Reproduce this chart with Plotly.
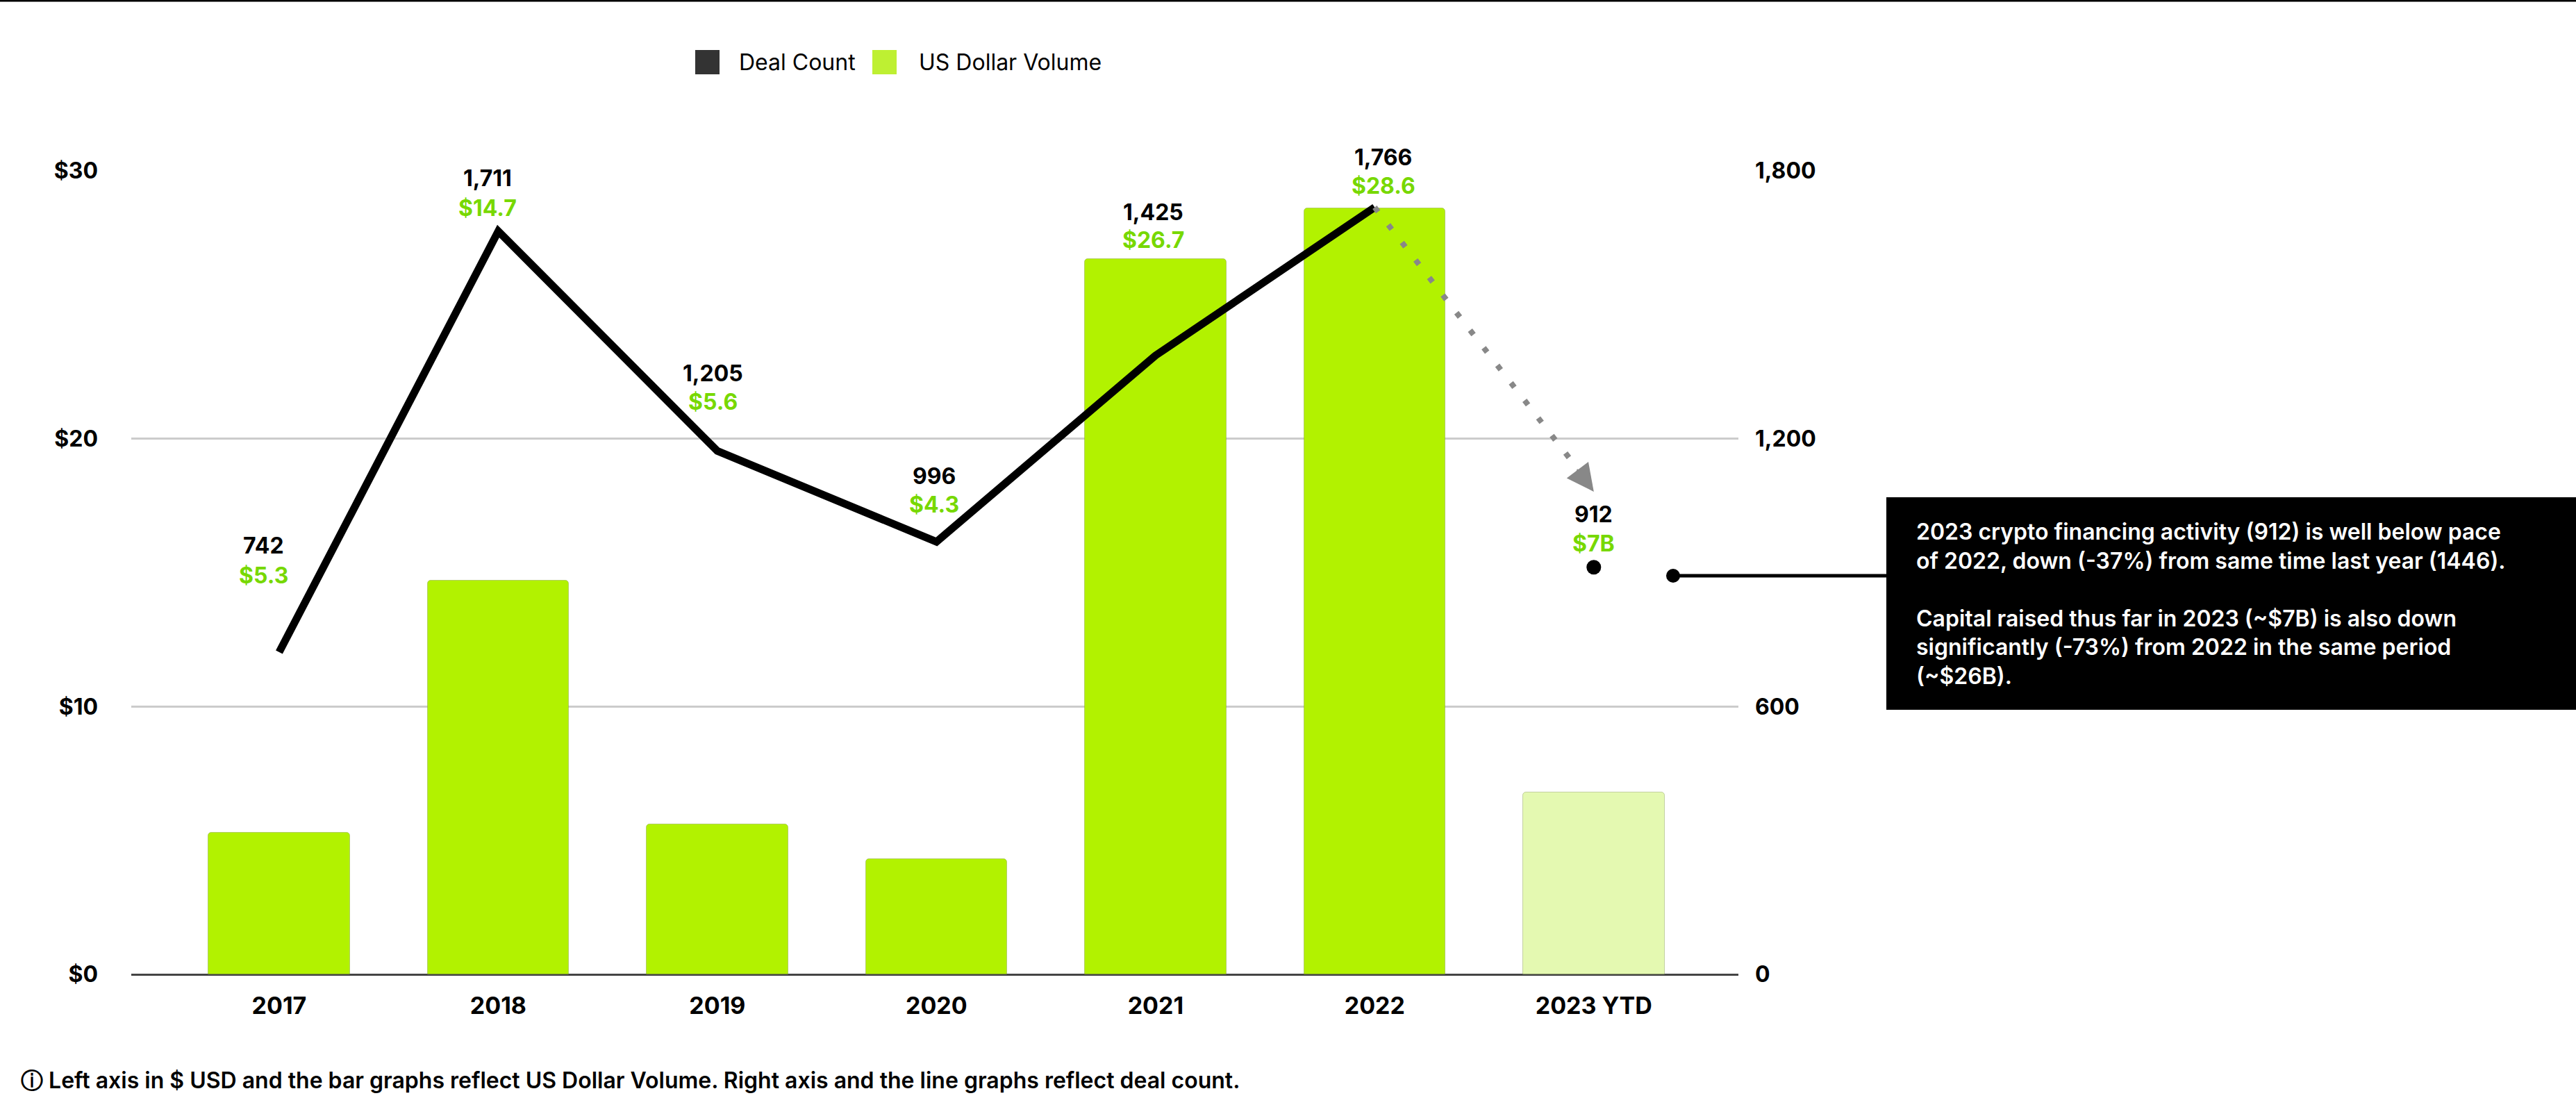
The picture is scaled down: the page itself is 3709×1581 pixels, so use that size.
import plotly.graph_objects as go

# ---------------- data ----------------
years = ["2017", "2018", "2019", "2020", "2021", "2022", "2023 YTD"]
usd_volume = [5.3, 14.7, 5.6, 4.3, 26.7, 28.6, 6.8]          # $B, bars (left axis)
usd_labels = ["$5.3", "$14.7", "$5.6", "$4.3", "$26.7", "$28.6", "$7B"]
deal_count = [742, 1711, 1205, 996, 1425, 1766, 912]         # line (right axis)
count_labels = ["742", "1,711", "1,205", "996", "1,425", "1,766", "912"]
left_tickvals = [0, 10, 20, 30]
left_ticktext = ["$0", "$10", "$20", "$30"]
right_tickvals = [0, 600, 1200, 1800]
right_ticktext = ["0", "600", "1,200", "1,800"]

legend_names = ["Deal Count", "US Dollar Volume"]
note_text = ("2023 crypto financing activity (912) is well below pace<br>"
             "of 2022, down (-37%) from same time last year (1446).<br> <br>"
             "Capital raised thus far in 2023 (~$7B) is also down<br>"
             "significantly (-73%) from 2022 in the same period<br>"
             "(~$26B).")
footer_text = ("ⓘ Left axis in $ USD and the bar graphs reflect US Dollar Volume. "
               "Right axis and the line graphs reflect deal count.")

# ---------------- layout constants ----------------
W, H = 3709, 1581
L, R, T, B = 189, 2503, 246, 1403          # plot area in pixels
FONT = "Inter"
LIME = "#B2F200"
LIME_LIGHT = "#E4F9B1"
GREEN_TXT = "#77D800"
RIGHT_MAX = 1800
Y3MAX = 1850

# label positions (right-axis units) and small horizontal nudges
count_label_y = [961, 1784, 1346, 1117, 1708, 1831, 1031]
dollar_label_y = [894, 1717, 1282, 1053, 1645, 1767, 965]
label_dx = [-0.07, -0.05, -0.02, -0.01, -0.01, 0.04, 0.0]


def px(x):
    return (x - L) / (R - L)


def py(y):
    return (B - y) / (B - T)


bar_colors = [LIME] * 6 + [LIME_LIGHT]

fig = go.Figure()

fig.add_trace(go.Bar(
    x=years, y=usd_volume, width=0.645,
    marker=dict(color=bar_colors, cornerradius=5,
                line=dict(color="rgba(110,130,60,0.35)", width=1)),
    yaxis="y", showlegend=False, hoverinfo="skip",
))

fig.add_trace(go.Scatter(
    x=years[:6], y=deal_count[:6], mode="lines",
    line=dict(color="#000000", width=11),
    yaxis="y3", showlegend=False, hoverinfo="skip",
))

fig.add_trace(go.Scatter(
    x=years[6:], y=deal_count[6:], mode="markers",
    marker=dict(color="#000000", size=21),
    yaxis="y2", showlegend=False, hoverinfo="skip",
))

annotations = []
for i, yr in enumerate(years):
    annotations.append(dict(
        x=i + label_dx[i], y=count_label_y[i] / RIGHT_MAX, xref="x", yref="paper",
        text=count_labels[i], showarrow=False, xanchor="center", yanchor="middle",
        font=dict(family=FONT, size=32, color="#000000", weight=700)))
    annotations.append(dict(
        x=i + label_dx[i], y=dollar_label_y[i] / RIGHT_MAX, xref="x", yref="paper",
        text=usd_labels[i], showarrow=False, xanchor="center", yanchor="middle",
        font=dict(family=FONT, size=32, color=GREEN_TXT, weight=700)))

# arrow head of the dotted projection arrow
tip_y3 = (B - 708) / (B - T) * Y3MAX
annotations.append(dict(
    x=6, y=tip_y3, xref="x", yref="y3", text=" ", showarrow=True,
    arrowhead=2, arrowsize=3, arrowwidth=2.6, arrowcolor="#888888",
    ax=-27, ay=-36, standoff=0))

# note box text
annotations.append(dict(
    x=px(2757), y=py(869), xref="paper", yref="paper", text=note_text,
    showarrow=False, xanchor="left", yanchor="middle", align="left",
    font=dict(family=FONT, size=32, color="#FFFFFF", weight=600)))

# legend labels
annotations.append(dict(
    x=px(1062), y=py(90), xref="paper", yref="paper", text=legend_names[0],
    showarrow=False, xanchor="left", yanchor="middle",
    font=dict(family=FONT, size=32, color="#000000")))
annotations.append(dict(
    x=px(1321), y=py(90), xref="paper", yref="paper", text=legend_names[1],
    showarrow=False, xanchor="left", yanchor="middle",
    font=dict(family=FONT, size=32, color="#000000")))

# footer
annotations.append(dict(
    x=px(28), y=py(1555), xref="paper", yref="paper", text=footer_text,
    showarrow=False, xanchor="left", yanchor="middle",
    font=dict(family=FONT, size=32, color="#000000", weight=600)))

shapes = [
    # top black rule
    dict(type="rect", xref="paper", yref="paper", x0=px(0), x1=px(W), y0=py(2.5), y1=py(0),
         fillcolor="#000000", line=dict(width=0), layer="above"),
    # legend squares
    dict(type="rect", xref="paper", yref="paper", x0=px(1001), x1=px(1036), y0=py(107), y1=py(72),
         fillcolor="#333333", line=dict(width=0)),
    dict(type="rect", xref="paper", yref="paper", x0=px(1256), x1=px(1291), y0=py(107), y1=py(72),
         fillcolor="#BEF032", line=dict(width=0)),
    # dotted projection line (from 2022 line end toward 2023)
    dict(type="line", xref="x", yref="y3", x0=5, y0=deal_count[5],
         x1=(2272 - 402) / 315.4, y1=(B - 676) / (B - T) * Y3MAX,
         line=dict(color="#888888", width=8, dash="8px,24px")),
    # connector to note box
    dict(type="line", xref="paper", yref="paper", x0=px(2409), x1=px(2718), y0=py(829), y1=py(829),
         line=dict(color="#000000", width=5)),
    dict(type="circle", xref="paper", yref="paper", x0=px(2399), x1=px(2419), y0=py(839), y1=py(819),
         fillcolor="#000000", line=dict(width=0)),
    # note box
    dict(type="rect", xref="paper", yref="paper", x0=px(2716), x1=px(W + 10), y0=py(1022), y1=py(716),
         fillcolor="#000000", line=dict(width=0), layer="below"),
]

fig.update_layout(
    width=W, height=H,
    margin=dict(l=L, r=W - R, t=T, b=H - B, pad=0),
    paper_bgcolor="#FFFFFF", plot_bgcolor="#FFFFFF",
    showlegend=False,
    bargap=0,
    font=dict(family=FONT, color="#000000"),
    xaxis=dict(type="category", range=[-0.675, 6.66], showgrid=False, zeroline=False,
               showline=False, ticks="", ticklabelstandoff=22,
               tickfont=dict(family=FONT, size=34, color="#000000", weight=700)),
    yaxis=dict(range=[0, 30], tickvals=left_tickvals, ticktext=left_ticktext,
               showgrid=True, gridcolor="#CCCCCC", gridwidth=3,
               zeroline=True, zerolinecolor="#444444", zerolinewidth=3,
               showline=False, ticks="", ticklabelstandoff=47,
               tickfont=dict(family=FONT, size=32, color="#000000", weight=700)),
    yaxis2=dict(range=[0, RIGHT_MAX], overlaying="y", side="right", tickvals=right_tickvals,
                ticktext=right_ticktext, showgrid=False, zeroline=False, showline=False,
                ticks="", ticklabelstandoff=23,
                tickfont=dict(family=FONT, size=32, color="#000000", weight=700)),
    yaxis3=dict(range=[0, Y3MAX], overlaying="y", visible=False),
    annotations=annotations,
    shapes=shapes,
)

fig.write_html("out.html")
